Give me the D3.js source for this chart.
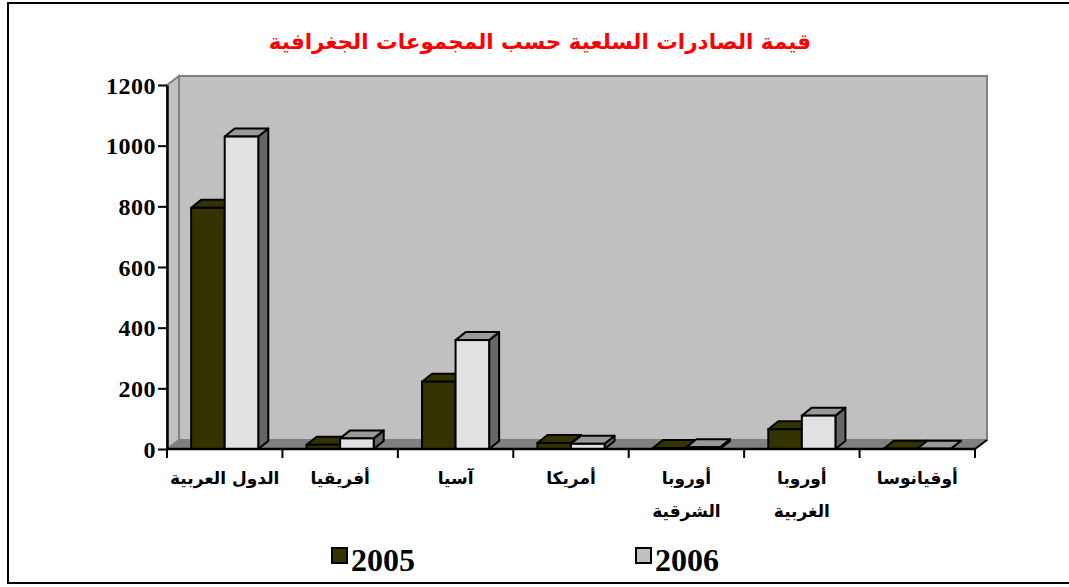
<!DOCTYPE html>
<html>
<meta charset="utf-8">
<title>قيمة الصادرات السلعية</title>
<style>
body { margin: 0; background: #fff; }
text.num { font-family: "Liberation Serif", "Times New Roman", serif; font-weight: bold; }
text.ar { font-family: "DejaVu Sans", sans-serif; font-weight: bold; }
</style>
<body>
<div id="chart"></div>
<script src="https://cdnjs.cloudflare.com/ajax/libs/d3/7.8.5/d3.min.js"></script>
<script>
// data
var categories = ["الدول العربية", "أفريقيا", "آسيا", "أمريكا", "أوروبا الشرقية", "أوروبا الغربية", "أوقيانوسا"];
var labelLines = [["الدول العربية"], ["أفريقيا"], ["آسيا"], ["أمريكا"], ["أوروبا", "الشرقية"], ["أوروبا", "الغربية"], ["أوقيانوسا"]];
var series = ["2005", "2006"];
var values2005 = [795, 14, 222, 20, 3, 65, 1];
var values2006 = [1030, 35, 359, 17, 6, 110, 1];
var yTicks = [0, 200, 400, 600, 800, 1000, 1200];

var width = 1069, height = 587;
var svg = d3.select("#chart").append("svg").attr("width", width).attr("height", height);

// outer frame
svg.append("rect").attr("x", 8).attr("y", 3).attr("width", 1070).attr("height", 580)
  .attr("fill", "#fff").attr("stroke", "#000").attr("stroke-width", 2);

svg.append("text").attr("class", "ar")
  .attr("x", 540).attr("y", 49)
  .attr("text-anchor", "middle").attr("direction", "rtl")
  .attr("fill", "#ff0000").style("font-size", "21.5px")
  .text("قيمة الصادرات السلعية حسب المجموعات الجغرافية");

var x0 = 167, x1 = 975;
var x = d3.scaleBand().domain(categories).range([x0, x1]).padding(0);
var xs = d3.scaleBand().domain(series).range([0, x.bandwidth()]).paddingInner(0).paddingOuter(0.72);
var y = d3.scaleLinear().domain([0, 1200]).range([449, 85]);

var wdx = 12, wdy = -9;   // wall depth
var bdx = 10, bdy = -8;   // bar depth

var yTop = y(1200), yBot = y(0);

// back wall
svg.append("rect").attr("x", x0 + wdx).attr("y", yTop + wdy)
  .attr("width", x1 - x0).attr("height", yBot - yTop)
  .attr("fill", "#c0c0c0").attr("stroke", "#808080").attr("stroke-width", 2);
// side wall
svg.append("path")
  .attr("d", "M" + x0 + "," + yBot + "L" + x0 + "," + yTop + "L" + (x0 + wdx) + "," + (yTop + wdy) + "L" + (x0 + wdx) + "," + (yBot + wdy) + "Z")
  .attr("fill", "#c0c0c0").attr("stroke", "#808080").attr("stroke-width", 2);
// floor
svg.append("path")
  .attr("d", "M" + x0 + "," + yBot + "L" + x1 + "," + yBot + "L" + (x1 + wdx) + "," + (yBot + wdy) + "L" + (x0 + wdx) + "," + (yBot + wdy) + "Z")
  .attr("fill", "#808080").attr("stroke", "#808080").attr("stroke-width", 1);
svg.append("line").attr("x1", x1).attr("y1", yBot).attr("x2", x1 + wdx).attr("y2", yBot + wdy)
  .attr("stroke", "#000").attr("stroke-width", 2);

// bars
var faces = {
  "2005": { front: "#333300", top: "#333300", side: "#262600" },
  "2006": { front: "#e2e2e2", top: "#999999", side: "#666666" }
};
var rows = [];
categories.forEach(function(c, i) {
  rows.push({ cat: c, s: "2005", v: values2005[i] });
  rows.push({ cat: c, s: "2006", v: values2006[i] });
});

var bars = svg.append("g").selectAll("g").data(rows).join("g");
bars.each(function(d) {
  var g = d3.select(this);
  var bx = x(d.cat) + xs(d.s), bw = xs.bandwidth();
  var ty = y(d.v), by = y(0);
  var f = faces[d.s];
  g.append("path")
    .attr("d", "M" + (bx + bw) + "," + by + "L" + (bx + bw) + "," + ty + "L" + (bx + bw + bdx) + "," + (ty + bdy) + "L" + (bx + bw + bdx) + "," + (by + bdy) + "Z")
    .attr("fill", f.side).attr("stroke", "#000").attr("stroke-width", 2).attr("stroke-linejoin", "round");
  g.append("path")
    .attr("d", "M" + bx + "," + ty + "L" + (bx + bdx) + "," + (ty + bdy) + "L" + (bx + bw + bdx) + "," + (ty + bdy) + "L" + (bx + bw) + "," + ty + "Z")
    .attr("fill", f.top).attr("stroke", "#000").attr("stroke-width", 2).attr("stroke-linejoin", "round");
  g.append("rect").attr("x", bx).attr("y", ty).attr("width", bw).attr("height", by - ty)
    .attr("fill", f.front).attr("stroke", "#000").attr("stroke-width", 2);
});

// y axis
var yAxis = svg.append("g").attr("transform", "translate(" + x0 + ",0)")
  .call(d3.axisLeft(y).tickValues(yTicks).tickFormat(d3.format("d"))
    .tickSize(9).tickPadding(2).tickSizeOuter(0));
yAxis.select(".domain").attr("stroke", "#000").attr("stroke-width", 2.5);
yAxis.selectAll(".tick line").attr("stroke", "#000").attr("stroke-width", 2);
yAxis.selectAll(".tick text").attr("class", "num").style("font-size", "24px")
  .attr("letter-spacing", "0.5px").attr("dy", "0.34em").attr("fill", "#000");

// x axis line and ticks at category boundaries
svg.append("line").attr("x1", x0).attr("y1", yBot).attr("x2", x1).attr("y2", yBot)
  .attr("stroke", "#000").attr("stroke-width", 2.5);
var bounds = categories.map(function(c) { return x(c); }).concat([x1]);
svg.append("g").selectAll("line").data(bounds).join("line")
  .attr("x1", function(d) { return d; }).attr("x2", function(d) { return d; })
  .attr("y1", yBot).attr("y2", yBot + 9)
  .attr("stroke", "#000").attr("stroke-width", 2);

// category labels
var labels = svg.append("g").selectAll("text").data(categories).join("text")
  .attr("class", "ar")
  .attr("text-anchor", "middle").attr("direction", "rtl")
  .attr("x", function(d) { return x(d) + x.bandwidth() / 2; })
  .attr("y", 484)
  .style("font-size", "17px").attr("fill", "#000");
labels.each(function(d, i) {
  var t = d3.select(this);
  labelLines[i].forEach(function(line, k) {
    t.append("tspan").attr("x", x(d) + x.bandwidth() / 2).attr("dy", k === 0 ? 0 : 33).text(line);
  });
});

// legend
var legendX = { "2005": 332, "2006": 636 };
var lg = svg.append("g").selectAll("g").data(series).join("g")
  .attr("transform", function(d) { return "translate(" + legendX[d] + ",548)"; });
lg.append("rect").attr("width", 15).attr("height", 15)
  .attr("fill", function(d) { return d === "2005" ? "#333300" : "#c0c0c0"; })
  .attr("stroke", "#000").attr("stroke-width", 2);
lg.append("text").attr("class", "num").attr("x", 19).attr("y", 23)
  .style("font-size", "32px").attr("fill", "#000")
  .text(function(d) { return d; });
</script>
</body>
</html>
